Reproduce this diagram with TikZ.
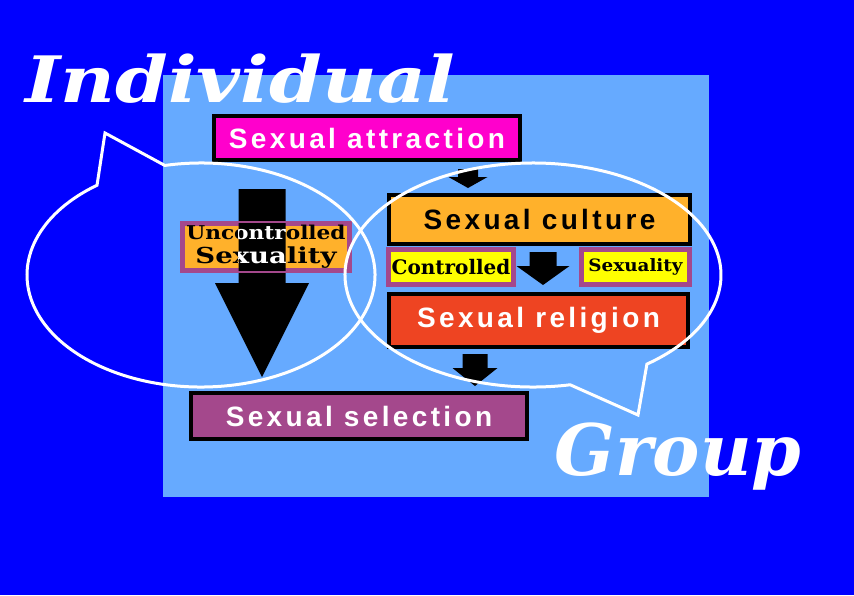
\documentclass[tikz,border=0pt]{standalone}
\usepackage{fontspec}
\setmainfont{Liberation Sans}
\newfontfamily\boxfont{Liberation Sans}[LetterSpace=12]
\newfontfamily\fancyfont{DejaVu Serif}
\usetikzlibrary{calc}
\definecolor{bgblue}{HTML}{0000FF}
\definecolor{panel}{HTML}{66AAFF}
\definecolor{pmag}{HTML}{FF00CC}
\definecolor{porange}{HTML}{FFB12B}
\definecolor{pred}{HTML}{EE4422}
\definecolor{ppurple}{HTML}{A4488C}
\definecolor{pyellow}{HTML}{FFFF00}
\tikzset{
  box/.style={
    draw=black, fill=#1, line width=4pt, inner sep=0pt,
    font=\boxfont\bfseries\fontsize{28}{30}\selectfont
  },
  tag/.style={
    draw=ppurple, fill=#1, line width=5pt, inner sep=0pt
  },
  fancy/.style={font=\fancyfont\bfseries\fontsize{#1}{#1}\selectfont},
  bubble/.style={draw=white, line width=3pt, line join=miter},
  title/.style={text=white, inner sep=0pt,
    font=\fancyfont\bfseries\itshape\fontsize{#1}{#1}\selectfont}
}
\newcommand{\blockarrow}[5]{%
  \fill[black] ($(#1)+(-#3,0)$) -- ($(#2)+(-#3,-#5)$) -- ($(#2)+(-#4,-#5)$)
    -- (#2) -- ($(#2)+(#4,-#5)$) -- ($(#2)+(#3,-#5)$) -- ($(#1)+(#3,0)$) -- cycle;}
\newcommand{\unctext}{\fontsize{19}{19}\selectfont\scalebox{1.14}[1]{Uncontrolled}\\[5pt]
  \fontsize{22}{22}\selectfont\scalebox{1.25}[1]{Sexuality}}

\begin{document}
\begin{tikzpicture}[x=1pt,y=-1pt]
  \fill[bgblue] (0,0) rectangle (854,595);
  \useasboundingbox (0,0) rectangle (854,595);
  \fill[panel] (163,75) rectangle (709,497);

  \node[box=pmag, text=white, minimum width=306, minimum height=44] (attr) at (367,138) {Sexual attraction};
  \node[box=porange, minimum width=301, minimum height=49] (cult) at (539.5,219.5) {Sexual culture};
  \node[box=pred, text=white, minimum width=299, minimum height=53] (relig) at (538.5,320.5) {Sexual religion};
  \node[box=ppurple, text=white, minimum width=336, minimum height=46] (sel) at (359,416) {Sexual selection};
  \node[tag=pyellow, fancy=20, minimum width=125, minimum height=35] (ctrl) at (451,267) {Controlled};
  \node[tag=pyellow, fancy=17, minimum width=108, minimum height=35] (sxty) at (635.5,267) {\scalebox{1.08}[1]{Sexuality}};

  \coordinate (bigT) at ($(attr.south)+(-105,27)$);
  \coordinate (bigB) at ($(bigT |- sel.north)+(0,-14)$);
  \blockarrow{bigT}{bigB}{23.5}{47}{94}
  \coordinate (aT) at ($(attr.south)+(101,7)$);
  \coordinate (aB) at ($(aT |- cult.north)+(0,-5)$);
  \blockarrow{aT}{aB}{10}{19.5}{11}
  \coordinate (bT) at ($(cult.south)+(3.5,6)$);
  \coordinate (bB) at ($(bT |- relig.north)+(0,-7)$);
  \blockarrow{bT}{bB}{13.5}{26.5}{19}
  \coordinate (cT) at ($(relig.south)+(-63.5,5)$);
  \coordinate (cB) at ($(cT |- sel.north)+(0,-5)$);
  \blockarrow{cT}{cB}{12.5}{22.5}{18}

  \node[tag=porange, fancy=19, align=center, minimum width=167, minimum height=47] (unc) at (266,247) {\unctext};
  \begin{scope}
    \clip ($(bigT |- unc.north)+(-23.5,2.5)$) rectangle ($(bigT |- unc.south)+(23.5,-2.5)$);
    \fill[black] (unc.north west) rectangle (unc.south east);
    \node[fancy=19, text=white, align=center, inner sep=0pt] (uncw) at (unc.center) {\unctext};
  \end{scope}

  \coordinate (lbub) at (201,275);
  \draw[bubble] ($(lbub)+(258:174 and 112)$) arc[start angle=258, end angle=593.3, x radius=174, y radius=112] -- (105,133) -- cycle;
  \coordinate (rbub) at (533,275);
  \draw[bubble] ($(rbub)+(78.6:188 and 112)$) arc[start angle=78.6, end angle=412.7, x radius=188, y radius=112] -- (638,415) -- cycle;

  \node[title=64] (indiv) at (240,79) {\scalebox{1.18}[1]{Individual}};
  \node[title=71, anchor=base] (grp) at (678,475) {Group};
\end{tikzpicture}
\end{document}
